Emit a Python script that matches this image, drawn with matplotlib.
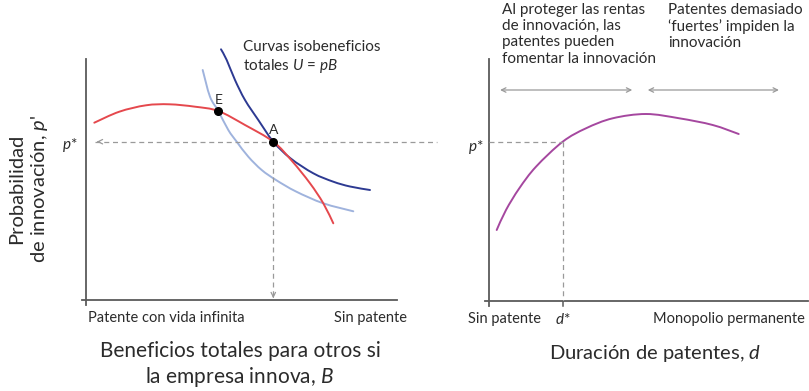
import numpy as np
import matplotlib.pyplot as plt
from matplotlib.path import Path
from matplotlib.patches import PathPatch

plt.rcParams['font.family'] = ['Lato', 'DejaVu Sans']
plt.rcParams['mathtext.fontset'] = 'custom'
plt.rcParams['mathtext.it'] = 'Lato:italic'
plt.rcParams['mathtext.rm'] = 'Lato'

# curvas (unidades arbitrarias, origen en la esquina de los ejes)
red_x = [8.3, 33.3, 60, 83.3, 109, 132.3, 159, 187.3, 206, 224, 237.3, 247.3]
red_y = [177.3, 188.3, 194.7, 195.7, 193.3, 189, 175, 158.3, 139, 116.7, 96.7, 76.7]

dark_x = [135, 140.7, 149, 159, 172.3, 187.3, 204.5, 227.3, 247.3, 264, 284]
dark_y = [250.7, 240, 220, 200, 180, 158.3, 141.7, 126.7, 118.3, 113.5, 110]

light_x = [116.7, 124, 132.3, 142.3, 150.7, 162.3, 175.7, 190, 210, 237.3, 267.3]
light_y = [230, 203.3, 189, 170, 158.3, 143.3, 130, 120, 108.5, 96.7, 88.7]

E = (132.3, 189)
A = (187.3, 158.3)

purple_x = [7.4, 16.7, 30, 46.7, 73.4, 96.7, 123.4, 156.7, 190, 223.4, 249.4]
purple_y = [71, 91, 112.7, 134.3, 159.3, 172.7, 182.7, 187, 182.7, 176, 167]
d_star = 73.4
p_star_r = 159.3

axis_c = '#5a5a5a'
dash_c = '#9a9a9a'
txt_c = '#2b2b2b'


def smooth_curve(ax, xs, ys, color):
    # curva suave que pasa por los puntos leidos (Bezier cubicas tipo Catmull-Rom)
    p = np.column_stack([xs, ys]).astype(float)
    verts = [p[0]]
    codes = [Path.MOVETO]
    for i in range(len(p) - 1):
        p0 = p[i - 1] if i > 0 else p[i]
        p3 = p[i + 2] if i + 2 < len(p) else p[i + 1]
        c1 = p[i] + (p[i + 1] - p0) / 6
        c2 = p[i + 1] - (p3 - p[i]) / 6
        verts += [c1, c2, p[i + 1]]
        codes += [Path.CURVE4] * 3
    ax.add_patch(PathPatch(Path(verts, codes), fc='none', ec=color, lw=1.4,
                           clip_on=False, capstyle='round'))


fig = plt.figure(figsize=(8.09, 3.91), dpi=100)
ax1 = fig.add_axes([86/809, 91/391, 310/809, 241/391])
ax2 = fig.add_axes([489.3/809, 90/391, 318/809, 242/391])
for ax in (ax1, ax2):
    ax.set_axis_off()
ax1.set_xlim(0, 310)
ax1.set_ylim(0, 241)
ax2.set_xlim(0, 318)
ax2.set_ylim(0, 242)

# ---- panel izquierdo ----
ax1.plot([-4.3, 310.7], [0, 0], color=axis_c, lw=1.3, clip_on=False)
ax1.plot([0, 0], [-5, 241], color=axis_c, lw=1.3, clip_on=False)

ax1.plot([9, 350.7], [A[1], A[1]], ls=(0, (4, 3)), color=dash_c, lw=0.9, clip_on=False)
ax1.annotate('', xy=(8, A[1]), xytext=(16, A[1]),
             arrowprops=dict(arrowstyle='->', color=dash_c, lw=0.9, mutation_scale=8),
             annotation_clip=False)
ax1.plot([A[0], A[0]], [A[1], 1], ls=(0, (4, 3)), color=dash_c, lw=0.9, clip_on=False)
ax1.annotate('', xy=(A[0], -1), xytext=(A[0], 7),
             arrowprops=dict(arrowstyle='->', color=dash_c, lw=0.9, mutation_scale=8),
             annotation_clip=False)

smooth_curve(ax1, light_x, light_y, '#9fb3dd')
smooth_curve(ax1, dark_x, dark_y, '#2d3a92')
smooth_curve(ax1, red_x, red_y, '#e5484d')
ax1.plot([E[0], A[0]], [E[1], A[1]], 'o', color='black', ms=5.5, clip_on=False, zorder=5)
ax1.text(E[0], E[1] + 11, 'E', ha='center', va='center', fontsize=10, color=txt_c)
ax1.text(A[0], A[1] + 12, 'A', ha='center', va='center', fontsize=10, color=txt_c)

ax1.text(157.3, 260, 'Curvas isobeneficios\ntotales $U$ = $pB$', ha='left', va='top',
         fontsize=11, color=txt_c, linespacing=1.25)
ax1.text(-16, 155, '$p$*', ha='center', va='center', fontsize=11, color=txt_c)

ax1.text(2, -18, 'Patente con vida infinita', ha='left', va='center', fontsize=10.5, color=txt_c)
ax1.text(321, -18, 'Sin patente', ha='right', va='center', fontsize=10.5, color=txt_c)
ax1.text(154, -65, 'Beneficios totales para otros si\nla empresa innova, $B$', ha='center',
         va='center', fontsize=15, color=txt_c, linespacing=1.2)
ax1.text(-57, 111, "Probabilidad\nde innovación, $p$'", ha='center', va='center',
         rotation=90, fontsize=14.5, color=txt_c, linespacing=1.25)

# ---- panel derecho ----
ax2.plot([-4.3, 318.7], [0, 0], color=axis_c, lw=1.3, clip_on=False)
ax2.plot([0, 0], [-5, 241.7], color=axis_c, lw=1.3, clip_on=False)
ax2.plot([d_star, d_star], [-5, 0], color=axis_c, lw=1.1, clip_on=False)

ax2.plot([0, d_star], [p_star_r, p_star_r], ls=(0, (4, 3)), color=dash_c, lw=0.9)
ax2.plot([d_star, d_star], [p_star_r, 0], ls=(0, (4, 3)), color=dash_c, lw=0.9)
smooth_curve(ax2, purple_x, purple_y, '#a5479f')

for x0, x1 in [(8, 145.7), (155.7, 292.4)]:
    ax2.annotate('', xy=(x0, 211), xytext=(x1, 211),
                 arrowprops=dict(arrowstyle='<->', color=dash_c, lw=0.9, mutation_scale=8),
                 annotation_clip=False)

ax2.text(12.4, 298, 'Al proteger las rentas\nde innovación, las\npatentes pueden\nfomentar la innovación',
         ha='left', va='top', fontsize=11, color=txt_c, linespacing=1.2)
ax2.text(178.4, 298, 'Patentes demasiado\n‘fuertes’ impiden la\ninnovación',
         ha='left', va='top', fontsize=11, color=txt_c, linespacing=1.2)
ax2.text(-14, 154, '$p$*', ha='center', va='center', fontsize=11, color=txt_c)

ax2.text(15, -18, 'Sin patente', ha='center', va='center', fontsize=10.5, color=txt_c)
ax2.text(d_star, -18, '$d$*', ha='center', va='center', fontsize=11, color=txt_c)
ax2.text(316, -18, 'Monopolio permanente', ha='right', va='center', fontsize=10.5, color=txt_c)
ax2.text(165.7, -53, 'Duración de patentes, $d$', ha='center', va='center',
         fontsize=14.5, color=txt_c)

fig.savefig('out.png', dpi=100)
